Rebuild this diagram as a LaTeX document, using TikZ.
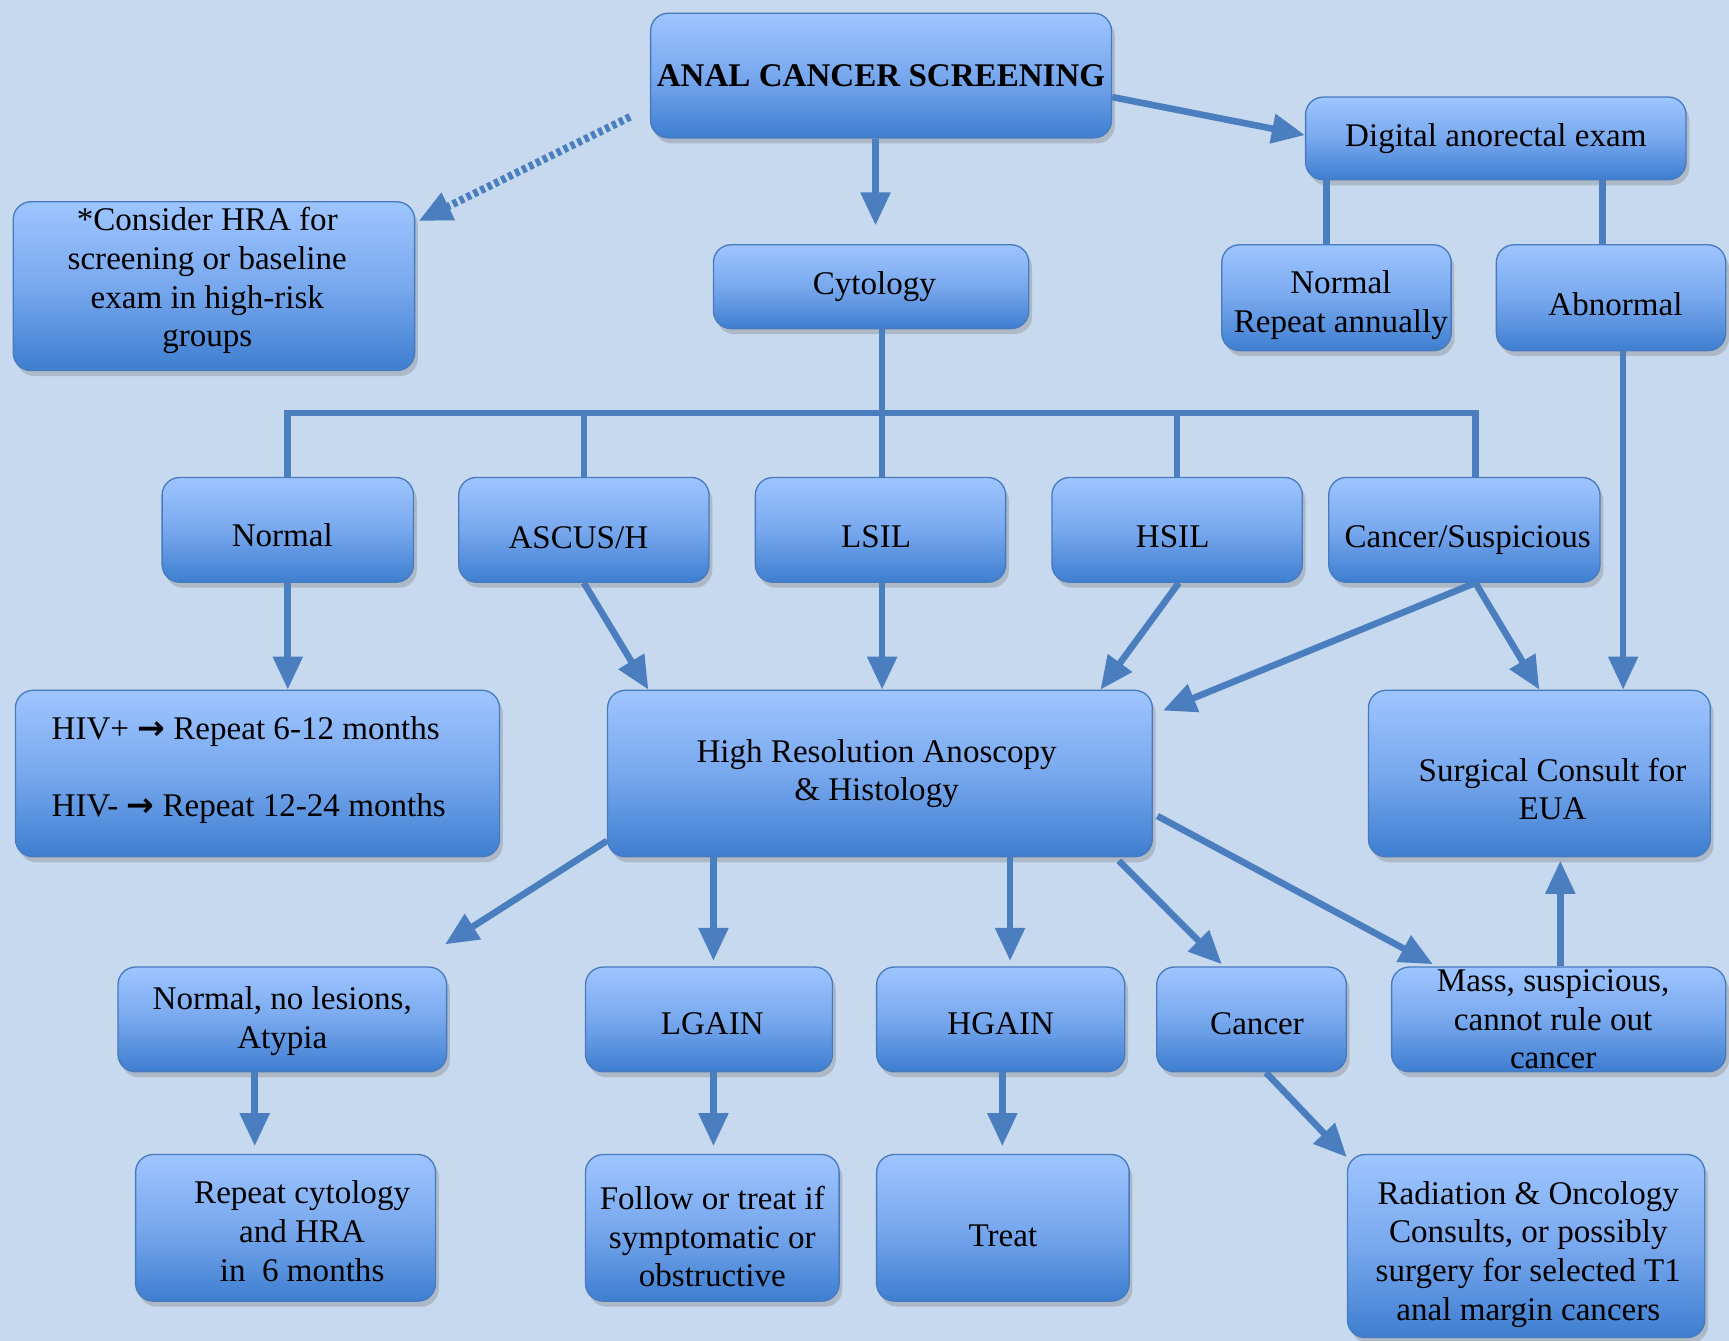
\documentclass[tikz,border=0pt]{standalone}
\usepackage{fontspec}
\setmainfont{Liberation Serif}
\newfontfamily\arrowfont{DejaVu Sans}
\usetikzlibrary{arrows.meta,shadows,calc}
\definecolor{bgc}{RGB}{199,217,239}
\definecolor{arrc}{RGB}{74,126,190}
\definecolor{boxtop}{RGB}{158,197,255}
\definecolor{boxmid}{RGB}{120,168,238}
\definecolor{boxbot}{RGB}{62,126,208}
\definecolor{boxline}{RGB}{72,122,190}
\tikzset{
  fbox/.style={draw=boxline, line width=1.2pt, rounded corners=16pt,
    top color=boxtop, bottom color=boxbot, middle color=boxmid,
    drop shadow={shadow xshift=3pt, shadow yshift=-5pt, opacity=0.35},
    inner sep=0pt},
  txt/.style={align=center, inner sep=0pt, font=\fontsize{30}{35}\selectfont, text=black},
  conn/.style={draw=arrc, line width=6pt},
  arr/.style={conn, -{Triangle[width=26pt,length=30pt]}},
}
\newcommand{\harr}{{\arrowfont\bfseries →}}
% name, width, height, centre, text xshift, text yshift, text
\newcommand{\bx}[7]{%
  \node[fbox, minimum width=#2, minimum height=#3] (#1) at (#4) {};
  \node[txt] (#1-t) at ([xshift=#5,yshift=#6]#1.center) {#7};}
\begin{document}
\begin{tikzpicture}[x=1pt,y=-1pt]
\useasboundingbox (0,0) rectangle (1568,1216);
\fill[bgc] (0,0) rectangle (1568,1216);

% top
\bx{title}{418pt}{113pt}{799,68.5}{0pt}{0pt}{\bfseries ANAL CANCER SCREENING}
\bx{note}{364pt}{153pt}{194,259.5}{-6pt}{5pt}{*Consider HRA for\\screening or baseline\\exam in high-risk\\groups}
\bx{cyt}{286pt}{76pt}{790,260}{3pt}{0pt}{Cytology}
\bx{dig}{345pt}{75pt}{1356.5,125.5}{0pt}{0pt}{Digital anorectal exam}
\bx{nrm}{208pt}{96pt}{1212,270}{4pt}{-6.5pt}{Normal\\Repeat annually}
\bx{abn}{208pt}{96pt}{1461,270}{4pt}{-6pt}{Abnormal}

% row 2
\bx{n1}{228pt}{95pt}{261,480.5}{-5pt}{-5pt}{Normal}
\bx{n2}{227pt}{95pt}{529.5,480.5}{-5pt}{-7pt}{ASCUS/H}
\bx{n3}{227pt}{95pt}{798.5,480.5}{-4pt}{-6pt}{LSIL}
\bx{n4}{227pt}{95pt}{1067.5,480.5}{-4pt}{-6pt}{HSIL}
\bx{n5}{246pt}{95pt}{1328,480.5}{3pt}{-9pt}{Cancer/Suspicious}

% row 3
\node[fbox, minimum width=439pt, minimum height=151pt] (hiv) at (233.5,701.5) {};
\node[txt, align=left] (hiv-t) at ([xshift=-8pt,yshift=3.5pt]hiv.center) {HIV+ \harr{} Repeat 6-12 months\\[35pt]HIV- \harr{} Repeat 12-24 months};
\bx{hra}{494pt}{151pt}{798,701.5}{-3pt}{0pt}{High Resolution Anoscopy\\\& Histology}
\bx{surg}{310pt}{151pt}{1396,701.5}{12pt}{-14pt}{Surgical Consult for\\EUA}

% row 4
\bx{nl}{298pt}{95pt}{256,924.5}{0pt}{-1.5pt}{Normal, no lesions,\\Atypia}
\bx{lg}{224pt}{95pt}{643,924.5}{3pt}{-4pt}{LGAIN}
\bx{hg}{225pt}{95pt}{907.5,924.5}{0pt}{-4pt}{HGAIN}
\bx{ca}{172pt}{95pt}{1135,924.5}{5pt}{-4pt}{Cancer}
\bx{mass}{303pt}{95pt}{1413.5,924.5}{-5pt}{0pt}{Mass, suspicious,\\cannot rule out\\cancer}

% row 5
\bx{rep}{272pt}{133pt}{259,1113.5}{15pt}{-3pt}{Repeat cytology\\and HRA\\in\ \ 6 months}
\bx{fol}{230pt}{133pt}{646,1113.5}{0pt}{-8pt}{Follow or treat if\\symptomatic or\\obstructive}
\bx{trt}{229pt}{133pt}{909.5,1113.5}{0pt}{-7pt}{Treat}
\bx{rad}{324pt}{166pt}{1384,1130}{2pt}{-7.5pt}{Radiation \& Oncology\\Consults, or possibly\\surgery for selected T1\\anal margin cancers}

% connectors from title
\draw[arr] ([xshift=-5pt]title.south) -- ([xshift=4pt,yshift=17pt]cyt.north);
\draw[arr] ([yshift=-19.5pt]title.east) -- ([yshift=3pt]dig.west);
\draw[draw=arrc, line width=7pt, dash pattern=on 4pt off 3pt, -{Triangle[width=26pt,length=30pt]}]
  ([xshift=-18pt,yshift=-37.5pt]title.west) -- ([xshift=3pt,yshift=-18pt]note.north east);

% digital exam
\draw[conn] ([xshift=-9pt]nrm.north) -- ([xshift=-9pt]nrm.north |- dig.south);
\draw[conn] ([xshift=-8pt]abn.north) -- ([xshift=-8pt]abn.north |- dig.south);
\draw[arr] ([xshift=11pt]abn.south) -- ([xshift=11pt]abn.south |- surg.north);

% cytology bus
\draw[conn] ([xshift=10pt]cyt.south) -- ([xshift=10pt]cyt.south |- n3.north);
\draw[conn] (n1.north) -- ++(0,-58) -| ([xshift=10pt]n5.north);
\draw[conn] (n2.north) -- ++(0,-58);
\draw[conn] (n4.north) -- ++(0,-58);

% row 2 -> row 3
\draw[arr] (n1.south) -- (n1.south |- hiv.north);
\draw[arr] (n2.south) -- ([xshift=-210pt]hra.north);
\draw[arr] ([xshift=1.5pt]n3.south) -- ([xshift=2pt]hra.north);
\draw[arr] ([xshift=1.5pt]n4.south) -- ([xshift=200pt]hra.north);
\draw[arr] ([xshift=10pt]n5.south) -- ([xshift=9pt,yshift=-19pt]hra.north east);
\draw[arr] ([xshift=10pt]n5.south) -- (surg.north);

% hra -> row 4
\draw[arr] ([yshift=15pt]hra.south west) -- ([xshift=-2pt,yshift=20pt]nl.north east);
\draw[arr] ([xshift=-151pt]hra.south) -- ([xshift=4pt,yshift=5pt]lg.north);
\draw[arr] ([xshift=118pt]hra.south) -- ([xshift=8.5pt,yshift=5pt]hg.north);
\draw[arr] ([xshift=-31pt,yshift=-3pt]hra.south east) -- ([xshift=-27pt,yshift=2pt]ca.north);
\draw[arr] ([xshift=4pt,yshift=-38.5pt]hra.east) -- ([xshift=38pt,yshift=2pt]mass.north west);
\draw[arr] ([xshift=1.5pt]mass.north) -- ([xshift=1.5pt,yshift=-3pt]mass.north |- surg.south);

% row 4 -> row 5
\draw[arr] ([xshift=-25pt]nl.south) -- ([xshift=-28pt,yshift=7pt]rep.north);
\draw[arr] ([xshift=4pt]lg.south) -- ([xshift=1pt,yshift=7pt]fol.north);
\draw[arr] ([xshift=1.5pt]hg.south) -- ([xshift=-0.5pt,yshift=7pt]trt.north);
\draw[arr] ([xshift=13pt]ca.south) -- ([yshift=-3pt]rad.north west);
\end{tikzpicture}
\end{document}
